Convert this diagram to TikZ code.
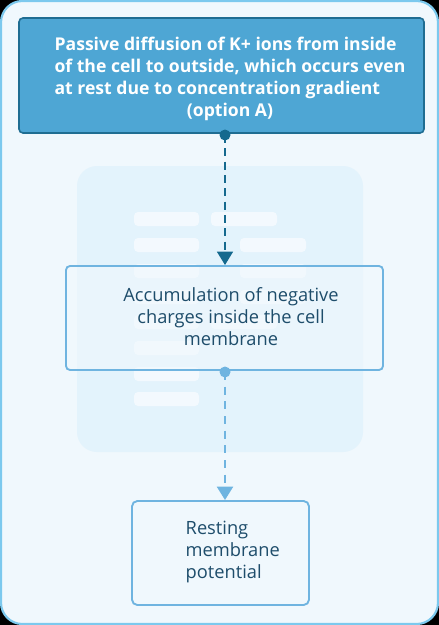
\documentclass[tikz,border=0pt]{standalone}
\usepackage{fontspec}
\setmainfont{Open Sans}
\usetikzlibrary{arrows.meta}
\definecolor{bgc}{HTML}{F0F8FD}
\definecolor{outerc}{HTML}{7CC9EE}
\definecolor{cardc}{HTML}{E3F3FC}
\definecolor{barc}{HTML}{F3F9FE}
\definecolor{topfill}{HTML}{4EA6D4}
\definecolor{topdraw}{HTML}{1F6D92}
\definecolor{darkc}{HTML}{15698E}
\definecolor{lightc}{HTML}{6FB4E0}
\definecolor{txtc}{HTML}{1E4D6B}
\begin{document}
\begin{tikzpicture}[x=0.75pt,y=-0.75pt,
  bar/.style={fill=barc,rounded corners=3pt},
  boxtxt/.style={font=\fontsize{13.7pt}{16.5pt}\selectfont}]
\useasboundingbox (0,0) rectangle (439,625);
\fill[black] (0,0) rectangle (439,625);
\draw[outerc,line width=1.6pt,fill=bgc,rounded corners=16pt] (1,1) rectangle (438,624);
% faded card
\fill[cardc,rounded corners=15pt] (77,166) rectangle (363,452);
% placeholder bars
\foreach \y in {212,238,264,290,315,341,367,392}{\fill[bar] (134,\y) rectangle (199,\y+14);}
\fill[bar] (211,212) rectangle (277,226);
\fill[bar] (240,238) rectangle (306,252);
\fill[bar] (240,264) rectangle (306,278);
\fill[bar] (240,290) rectangle (306,304);
\fill[bar] (211,315) rectangle (277,329);
% top box
\draw[topdraw,line width=1.2pt,fill=topfill,rounded corners=3pt] (19,18) rectangle (424,133);
\node[text=white,font=\bfseries\fontsize{13.2pt}{16.5pt}\selectfont,anchor=center] (top) at (230,79)
 {\begin{tabular}{@{}l@{}}Passive diffusion of K+ ions from inside\\of the cell to outside, which occurs even\\at rest due to concentration gradient\\\multicolumn{1}{@{}c@{}}{(option A)}\end{tabular}};
\coordinate (d1) at (225,135);
% middle box
\draw[lightc,line width=1.4pt,fill=bgc,fill opacity=0.55,rounded corners=3pt] (66,266) rectangle (383,370);
\node[boxtxt,text=txtc,align=center] (mid) at (231,317) {Accumulation of negative\\charges inside the cell\\membrane};
\coordinate (t1) at (225,265);
\coordinate (d2) at (225,372);
% bottom box
\draw[lightc,line width=1.4pt,fill=bgc,rounded corners=4pt] (132,501) rectangle (309,605);
\node[boxtxt,text=txtc,align=left,anchor=west] (bot) at (181,552) {Resting\\membrane\\potential};
\coordinate (t2) at (225,500);
% connectors
\draw[darkc,line width=1pt,dash pattern=on 6pt off 4pt,-{Triangle[length=10pt,width=12pt]}] (d1) -- (t1);
\fill[darkc] (d1) circle (5.5);
\draw[lightc,line width=1.6pt,dash pattern=on 6pt off 5pt,-{Triangle[length=10pt,width=12pt]}] (d2) -- (t2);
\fill[lightc] (d2) circle (5.5);
\end{tikzpicture}
\end{document}
